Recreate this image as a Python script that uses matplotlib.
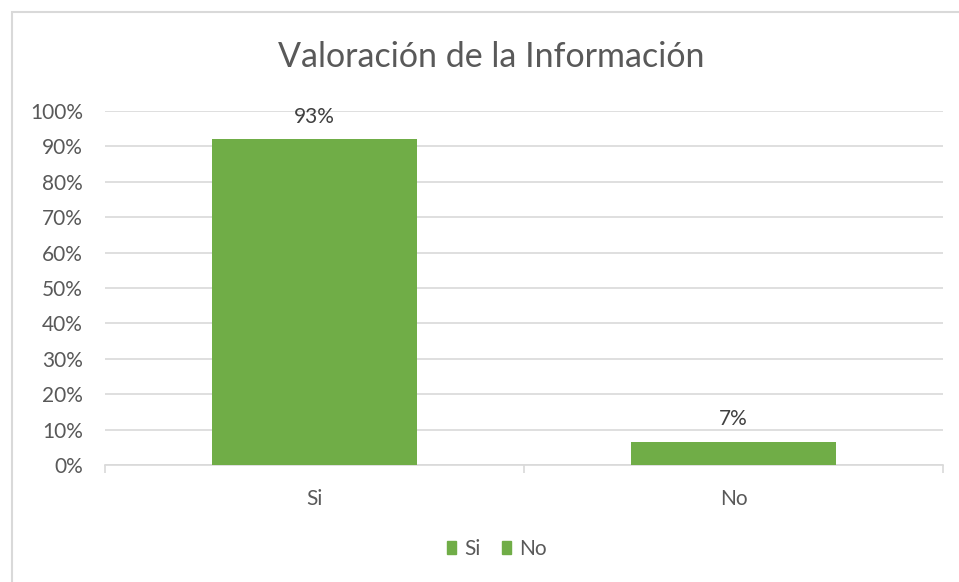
import matplotlib
matplotlib.use("Agg")
import matplotlib.pyplot as plt
from matplotlib.patches import Rectangle
from matplotlib.ticker import PercentFormatter, FixedLocator

categories = ["Si", "No"]
values = [0.92, 0.065]
value_labels = ["93%", "7%"]

bar_color = "#70AD47"
text_color = "#595959"
grid_color = "#D9D9D9"

plt.rcParams['font.family'] = ['Lato', 'DejaVu Sans']

fig = plt.figure(figsize=(9.59, 5.82), dpi=100)
ax = fig.add_axes([105 / 959, 1 - 465 / 582, 838 / 959, 354 / 582])

x = list(range(len(categories)))
bars = ax.bar(x, values, width=0.49, color=bar_color, zorder=3)
for b, lab in zip(bars, value_labels):
    ax.annotate(lab, (b.get_x() + b.get_width() / 2, b.get_height()),
                xytext=(0, 9), textcoords="offset points",
                ha="center", va="bottom", fontsize=15, color="#404040")

ax.set_xlim(-0.5, len(categories) - 0.5)
ax.set_ylim(0, 1)
ax.yaxis.set_major_locator(FixedLocator([i / 10 for i in range(11)]))
ax.yaxis.set_major_formatter(PercentFormatter(1.0, decimals=0))
ax.grid(axis="y", color=grid_color, linewidth=1.2, zorder=0)

ax.set_xticks(x)
ax.set_xticklabels(categories)
ax.set_xticks([-0.5, 0.5, 1.5], minor=True)
ax.tick_params(axis="x", which="major", length=0, pad=17, labelsize=15, labelcolor=text_color)
ax.tick_params(axis="x", which="minor", length=6, color=grid_color, width=1.2)
ax.tick_params(axis="y", length=0, pad=16, labelsize=15, labelcolor=text_color)

for side in ["top", "right", "left"]:
    ax.spines[side].set_visible(False)
ax.spines["bottom"].set_color(grid_color)
ax.spines["bottom"].set_linewidth(1.2)

fig.text(491 / 959, 1 - 57 / 582, "Valoración de la Información",
         ha="center", va="center", fontsize=24.5, color=text_color)

handles = [Rectangle((0, 0), 1, 1, color=bar_color) for _ in categories]
fig.legend(handles, categories, loc="center", bbox_to_anchor=(497 / 959, 1 - 549 / 582),
           ncol=2, frameon=False, fontsize=15, labelcolor=text_color,
           handlelength=0.45, handleheight=0.6, handletextpad=0.4, columnspacing=1.0)

fig.patches.append(Rectangle((12 / 959, -0.1), 1.2, 1.1 - 12 / 582, transform=fig.transFigure,
                             fill=False, edgecolor=grid_color, linewidth=1.5))

fig.savefig("out.png", dpi=100, facecolor="white")
